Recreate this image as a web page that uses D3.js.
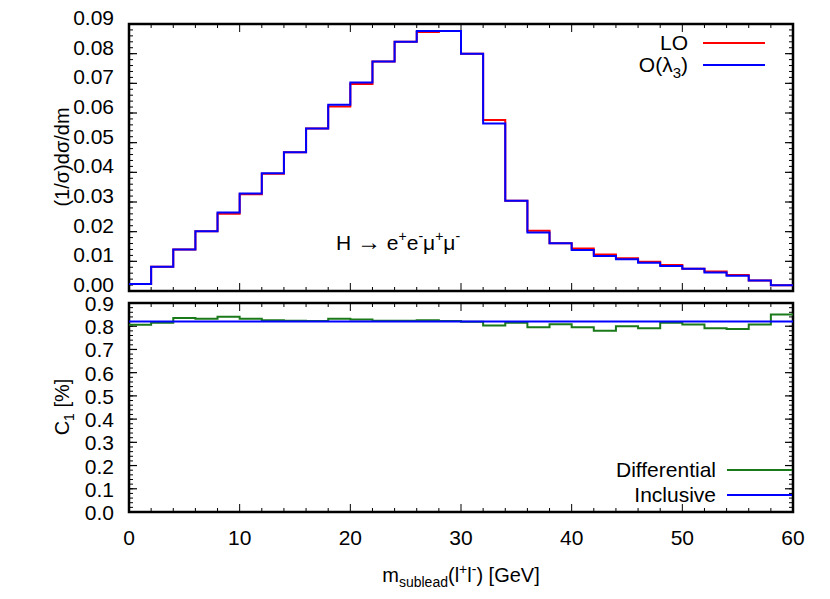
<!DOCTYPE html>
<meta charset="utf-8">
<style>
body { margin:0; background:#fff; }
text { font-family: "Liberation Sans", Arial, sans-serif; fill:#000; }
</style>
<body>
<svg id="chart" width="830" height="599"></svg>
<script src="https://cdn.jsdelivr.net/npm/d3@7"></script>
<script>
// bin edges: 0..60 in steps of 2
var binEdges = d3.range(0, 62, 2);
var loValues = [0.0024,0.0082,0.0140,0.0201,0.0260,0.0326,0.0395,0.0468,0.0548,0.0622,
                0.0698,0.0774,0.0840,0.0873,0.0876,0.0800,0.0576,0.0304,0.0203,0.0161,
                0.0143,0.0123,0.0110,0.0099,0.0088,0.0075,0.0066,0.0054,0.0035,0.0019];
var nloValues = [0.0024,0.0082,0.0140,0.0201,0.0265,0.0329,0.0397,0.0468,0.0548,0.0628,
                 0.0703,0.0774,0.0840,0.0876,0.0876,0.0800,0.0565,0.0304,0.0197,0.0161,
                 0.0138,0.0118,0.0107,0.0095,0.0084,0.0075,0.0062,0.0051,0.0035,0.0019];
var diffValues = [0.806,0.815,0.835,0.832,0.841,0.832,0.826,0.824,0.822,0.832,
                  0.829,0.824,0.824,0.826,0.822,0.819,0.803,0.815,0.796,0.809,
                  0.796,0.781,0.800,0.791,0.815,0.807,0.791,0.788,0.807,0.850];
var inclusive = 0.82;
var topTicks = d3.range(0, 0.091, 0.01);
var botTicks = d3.range(0, 0.91, 0.1);
var xTicks = [0, 10, 20, 30, 40, 50, 60];

var svg = d3.select("#chart");
var x = d3.scaleLinear().domain([0, 60]).range([129, 793]);
var yTop = d3.scaleLinear().domain([0, 0.09]).range([291, 24]);
var yBot = d3.scaleLinear().domain([0, 0.9]).range([512, 303]);

function stepLine(vals, y) {
  var pts = [];
  vals.forEach(function(v, i) {
    pts.push([x(binEdges[i]), y(v)]);
    pts.push([x(binEdges[i + 1]), y(v)]);
  });
  return d3.line()(pts);
}

function frame(y, major, minorStep, fmt, dy) {
  var y0 = y.range()[0], y1 = y.range()[1];
  var g = svg.append("g");
  var dom = y.domain();
  d3.range(dom[0], dom[1] + minorStep / 2, minorStep).forEach(function(v) {
    [[129, 1], [793, -1]].forEach(function(s) {
      g.append("line").attr("x1", s[0]).attr("x2", s[0] + s[1] * 4)
        .attr("y1", y(v)).attr("y2", y(v)).attr("stroke", "#000").attr("stroke-width", 1);
    });
  });
  major.forEach(function(v) {
    [[129, 1], [793, -1]].forEach(function(s) {
      g.append("line").attr("x1", s[0]).attr("x2", s[0] + s[1] * 8)
        .attr("y1", y(v)).attr("y2", y(v)).attr("stroke", "#000").attr("stroke-width", 1.2);
    });
    g.append("text").attr("x", 114).attr("y", y(v) + dy).attr("text-anchor", "end")
      .attr("font-size", 21).text(fmt(v));
  });
  d3.range(0, 61, 2).forEach(function(v) {
    var len = v % 10 === 0 ? 8 : 4;
    g.append("line").attr("x1", x(v)).attr("x2", x(v)).attr("y1", y0).attr("y2", y0 - len)
      .attr("stroke", "#000");
    g.append("line").attr("x1", x(v)).attr("x2", x(v)).attr("y1", y1).attr("y2", y1 + len)
      .attr("stroke", "#000");
  });
  g.append("rect").attr("x", 129).attr("y", y1).attr("width", 664).attr("height", y0 - y1)
    .attr("fill", "none").attr("stroke", "#000").attr("stroke-width", 2.5);
}

frame(yTop, topTicks, 0.002, d3.format(".2f"), 1);
frame(yBot, botTicks, 0.02, d3.format(".1f"), 8);

xTicks.forEach(function(v) {
  svg.append("text").attr("x", x(v)).attr("y", 545).attr("text-anchor", "middle")
    .attr("font-size", 21).text(v);
});

svg.append("path").attr("d", stepLine(loValues, yTop)).attr("fill", "none")
  .attr("stroke", "#ff0000").attr("stroke-width", 2);
svg.append("path").attr("d", stepLine(nloValues, yTop)).attr("fill", "none")
  .attr("stroke", "#0000ff").attr("stroke-width", 2);

svg.append("path").attr("d", stepLine(diffValues, yBot)).attr("fill", "none")
  .attr("stroke", "#1a7a1a").attr("stroke-width", 2);
svg.append("line").attr("x1", x(0)).attr("x2", x(60)).attr("y1", yBot(inclusive)).attr("y2", yBot(inclusive))
  .attr("stroke", "#0000ff").attr("stroke-width", 2);

function legend(yy, color, lx, x1, x2) {
  svg.append("line").attr("x1", x1).attr("x2", x2).attr("y1", yy).attr("y2", yy)
    .attr("stroke", color).attr("stroke-width", 2);
  return svg.append("text").attr("x", lx).attr("y", yy + 7).attr("text-anchor", "end").attr("font-size", 21);
}
legend(43, "#ff0000", 688, 703, 765).text("LO");
var t2 = legend(65, "#0000ff", 688, 703, 765);
t2.append("tspan").text("O(λ");
t2.append("tspan").attr("font-size", 15).attr("dy", 6).text("3");
t2.append("tspan").attr("dy", -6).text(")");
legend(470, "#1a7a1a", 716, 727, 792).text("Differential");
legend(495, "#0000ff", 716, 727, 792).text("Inclusive");

var an = svg.append("text").attr("x", 336).attr("y", 250).attr("font-size", 21);
an.append("tspan").text("H ");
an.append("tspan").attr("font-size", 24).text("→");
an.append("tspan").text(" e");
an.append("tspan").attr("font-size", 14).attr("dy", -9).text("+");
an.append("tspan").attr("dy", 9).text("e");
an.append("tspan").attr("font-size", 14).attr("dy", -9).text("-");
an.append("tspan").attr("dy", 9).text("μ");
an.append("tspan").attr("font-size", 14).attr("dy", -9).text("+");
an.append("tspan").attr("dy", 9).text("μ");
an.append("tspan").attr("font-size", 14).attr("dy", -9).text("-");

svg.append("text").attr("transform", "translate(69,157) rotate(-90)").attr("text-anchor", "middle")
  .attr("font-size", 20).text("(1/σ)dσ/dm");
var cl = svg.append("text").attr("transform", "translate(69,407) rotate(-90)").attr("text-anchor", "middle")
  .attr("font-size", 20);
cl.append("tspan").text("C");
cl.append("tspan").attr("font-size", 14).attr("dy", 5).text("1");
cl.append("tspan").attr("dy", -5).text(" [%]");
var xl = svg.append("text").attr("x", 461).attr("y", 582).attr("text-anchor", "middle").attr("font-size", 20);
xl.append("tspan").text("m");
xl.append("tspan").attr("font-size", 14).attr("dy", 5).text("sublead");
xl.append("tspan").attr("dy", -5).text("(l");
xl.append("tspan").attr("font-size", 14).attr("dy", -8).text("+");
xl.append("tspan").attr("dy", 8).text("l");
xl.append("tspan").attr("font-size", 14).attr("dy", -8).text("-");
xl.append("tspan").attr("dy", 8).text(") [GeV]");
</script>
</body>
